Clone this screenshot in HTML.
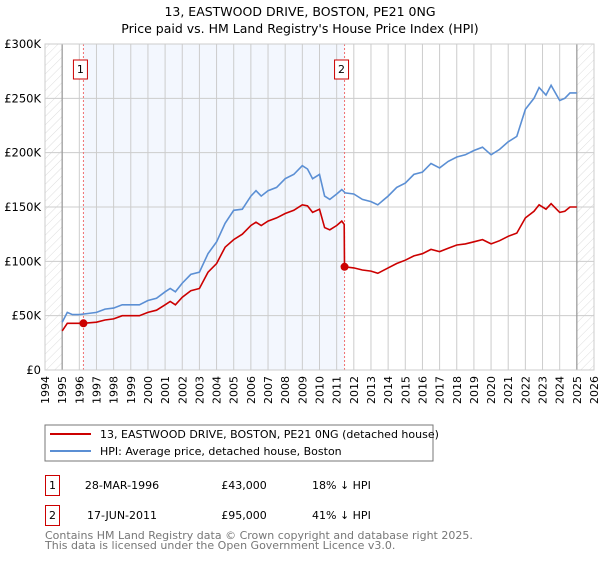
<!DOCTYPE html>
<html><head><meta charset="utf-8"><style>
body{margin:0;background:#fff;font-family:"DejaVu Sans","Liberation Sans",sans-serif;}
svg text{font-family:"DejaVu Sans","Liberation Sans",sans-serif;}
</style></head><body>
<svg id="chart" width="600" height="560" xmlns="http://www.w3.org/2000/svg">
<defs><pattern id="hatch" width="6" height="6" patternUnits="userSpaceOnUse" patternTransform="rotate(45)"><line x1="0" y1="0" x2="0" y2="6" stroke="#d4d4d4" stroke-width="0.8"/></pattern></defs>
<text x="300" y="16" text-anchor="middle" font-size="12.5" fill="#000">13, EASTWOOD DRIVE, BOSTON, PE21 0NG</text>
<text x="300" y="33" text-anchor="middle" font-size="12.5" fill="#000">Price paid vs. HM Land Registry's House Price Index (HPI)</text>
<g id="plot"></g>
<rect x="45" y="425" width="388" height="36" fill="#fff" stroke="#777"/>
<line x1="50" y1="434" x2="91" y2="434" stroke="#cc0000" stroke-width="2"/>
<text x="100" y="438" font-size="11">13, EASTWOOD DRIVE, BOSTON, PE21 0NG (detached house)</text>
<line x1="50" y1="451" x2="91" y2="451" stroke="#5b8fd4" stroke-width="2"/>
<text x="100" y="455" font-size="11">HPI: Average price, detached house, Boston</text>
<g>
<rect x="45.5" y="475.5" width="14" height="20" fill="#fff" stroke="#cc0000"/>
<text x="52.5" y="489" text-anchor="middle" font-size="11">1</text>
<text x="122" y="489" text-anchor="middle" font-size="11">28-MAR-1996</text>
<text x="244" y="489" text-anchor="middle" font-size="11">£43,000</text>
<text x="312" y="489" font-size="11">18% ↓ HPI</text></g>
<g>
<rect x="45.5" y="505.5" width="14" height="20" fill="#fff" stroke="#cc0000"/>
<text x="52.5" y="519" text-anchor="middle" font-size="11">2</text>
<text x="122" y="519" text-anchor="middle" font-size="11">17-JUN-2011</text>
<text x="244" y="519" text-anchor="middle" font-size="11">£95,000</text>
<text x="312" y="519" font-size="11">41% ↓ HPI</text></g>
<text x="45" y="539" font-size="11" fill="#777">Contains HM Land Registry data © Crown copyright and database right 2025.</text>
<text x="45" y="549" font-size="11" fill="#777">This data is licensed under the Open Government Licence v3.0.</text>
</svg>
<script>
const yTicks=[0,50000,100000,150000,200000,250000,300000];
const yTickLabels=["£0","£50K","£100K","£150K","£200K","£250K","£300K"];
const xYears=[1994,1995,1996,1997,1998,1999,2000,2001,2002,2003,2004,2005,2006,2007,2008,2009,2010,2011,2012,2013,2014,2015,2016,2017,2018,2019,2020,2021,2022,2023,2024,2025,2026];
const hpiDates=[1995.0,1995.3,1995.6,1996.0,1996.5,1997.0,1997.5,1998.0,1998.5,1999.0,1999.5,2000.0,2000.5,2001.0,2001.3,2001.6,2002.0,2002.5,2003.0,2003.5,2004.0,2004.5,2005.0,2005.5,2006.0,2006.3,2006.6,2007.0,2007.5,2008.0,2008.5,2009.0,2009.3,2009.6,2010.0,2010.3,2010.6,2011.0,2011.3,2011.5,2012.0,2012.5,2013.0,2013.4,2014.0,2014.5,2015.0,2015.5,2016.0,2016.5,2017.0,2017.5,2018.0,2018.5,2019.0,2019.5,2020.0,2020.5,2021.0,2021.5,2022.0,2022.5,2022.8,2023.2,2023.5,2024.0,2024.3,2024.6,2025.0];
const hpiValues=[44000,53000,51000,51000,52000,53000,56000,57000,60000,60000,60000,64000,66000,72000,75000,72000,80000,88000,90000,107000,118000,135000,147000,148000,160000,165000,160000,165000,168000,176000,180000,188000,185000,176000,180000,160000,157000,162000,166000,163000,162000,157000,155000,152000,160000,168000,172000,180000,182000,190000,186000,192000,196000,198000,202000,205000,198000,203000,210000,215000,240000,250000,260000,253000,262000,248000,250000,255000,255000];
const priceDates=[1995.0,1995.3,1996.0,1996.24,1997.0,1997.5,1998.0,1998.5,1999.0,1999.5,2000.0,2000.5,2001.0,2001.3,2001.6,2002.0,2002.5,2003.0,2003.5,2004.0,2004.5,2005.0,2005.5,2006.0,2006.3,2006.6,2007.0,2007.5,2008.0,2008.5,2009.0,2009.3,2009.6,2010.0,2010.3,2010.6,2011.0,2011.3,2011.44,2011.46,2012.0,2012.5,2013.0,2013.4,2014.0,2014.5,2015.0,2015.5,2016.0,2016.5,2017.0,2017.5,2018.0,2018.5,2019.0,2019.5,2020.0,2020.5,2021.0,2021.5,2022.0,2022.5,2022.8,2023.2,2023.5,2024.0,2024.3,2024.6,2025.0];
const priceValues=[36000,43000,43000,43000,44000,46000,47000,50000,50000,50000,53000,55000,60000,63000,60000,67000,73000,75000,90000,98000,113000,120000,125000,133000,136000,133000,137000,140000,144000,147000,152000,151000,145000,148000,131000,129000,133000,137000,134000,95000,94000,92000,91000,89000,94000,98000,101000,105000,107000,111000,109000,112000,115000,116000,118000,120000,116000,119000,123000,126000,140000,146000,152000,148000,153000,145000,146000,150000,150000];
const saleDates=[1996.24,2011.46];
const saleValues=[43000,95000];
const saleLabels=["1","2"];
const X0=45,X1=594,Y0=370,Y1=44;
const xs=t=>X0+(t-1994)/(2026-1994)*(X1-X0);
const ys=v=>Y0-v/300000*(Y0-Y1);
const NS="http://www.w3.org/2000/svg";
const g=document.getElementById('plot');
function mk(tag,attrs){const e=document.createElementNS(NS,tag);for(const k in attrs)e.setAttribute(k,attrs[k]);g.appendChild(e);return e;}
let r=mk('rect',{x:xs(saleDates[0]),y:Y1,width:xs(saleDates[1])-xs(saleDates[0]),height:Y0-Y1,fill:'#eef3fd',opacity:0.7});


r=mk('rect',{x:X0,y:Y1,width:xs(1995)-X0,height:Y0-Y1,fill:'url(#hatch)'});


r=mk('rect',{x:xs(2025),y:Y1,width:X1-xs(2025),height:Y0-Y1,fill:'url(#hatch)'});


xYears.forEach(yr=>{const l=mk('line',{x1:xs(yr),x2:xs(yr),y1:Y1,y2:Y0,stroke:'#ccc','stroke-width':1});


const t=mk('text',{x:0,y:0,'font-size':11,'text-anchor':'end',transform:`translate(${xs(yr)+4},${Y0+6}) rotate(-90)`});t.textContent=yr;

});
yTicks.forEach((v,i)=>{const l=mk('line',{x1:X0,x2:X1,y1:ys(v),y2:ys(v),stroke:'#ccc','stroke-width':1});


const t=mk('text',{x:X0-4,y:ys(v)+4,'font-size':11.5,'text-anchor':'end'});t.textContent=yTickLabels[i];

});
[1995,2025].forEach(yr=>{const l=mk('line',{x1:xs(yr),x2:xs(yr),y1:Y1,y2:Y0,stroke:'#999','stroke-width':1.2});

});
saleDates.forEach((d,i)=>{const l=mk('line',{x1:xs(d),x2:xs(d),y1:Y1,y2:Y0,stroke:'#f07070','stroke-width':1,'stroke-dasharray':'2,2'});

});
const pts=(ds,vs)=>ds.map((d,i)=>xs(d).toFixed(1)+','+ys(vs[i]).toFixed(1)).join(' ');
let p=mk('polyline',{points:pts(hpiDates,hpiValues),fill:'none',stroke:'#5b8fd4','stroke-width':1.6});


p=mk('polyline',{points:pts(priceDates,priceValues),fill:'none',stroke:'#cc0000','stroke-width':1.6});


saleDates.forEach((d,i)=>{const c=mk('circle',{cx:xs(d),cy:ys(saleValues[i]),r:4,fill:'#cc0000'});


const bx=xs(d)-3;const b=mk('rect',{x:bx-7,y:60,width:14,height:19,fill:'#fff',stroke:'#cc0000'});


const t=mk('text',{x:bx,y:73,'font-size':11,'text-anchor':'middle'});t.textContent=saleLabels[i];

});
const f=mk('rect',{x:X0,y:Y1,width:X1-X0,height:Y0-Y1,fill:'none',stroke:'#ccc'});


</script>
</body></html>
